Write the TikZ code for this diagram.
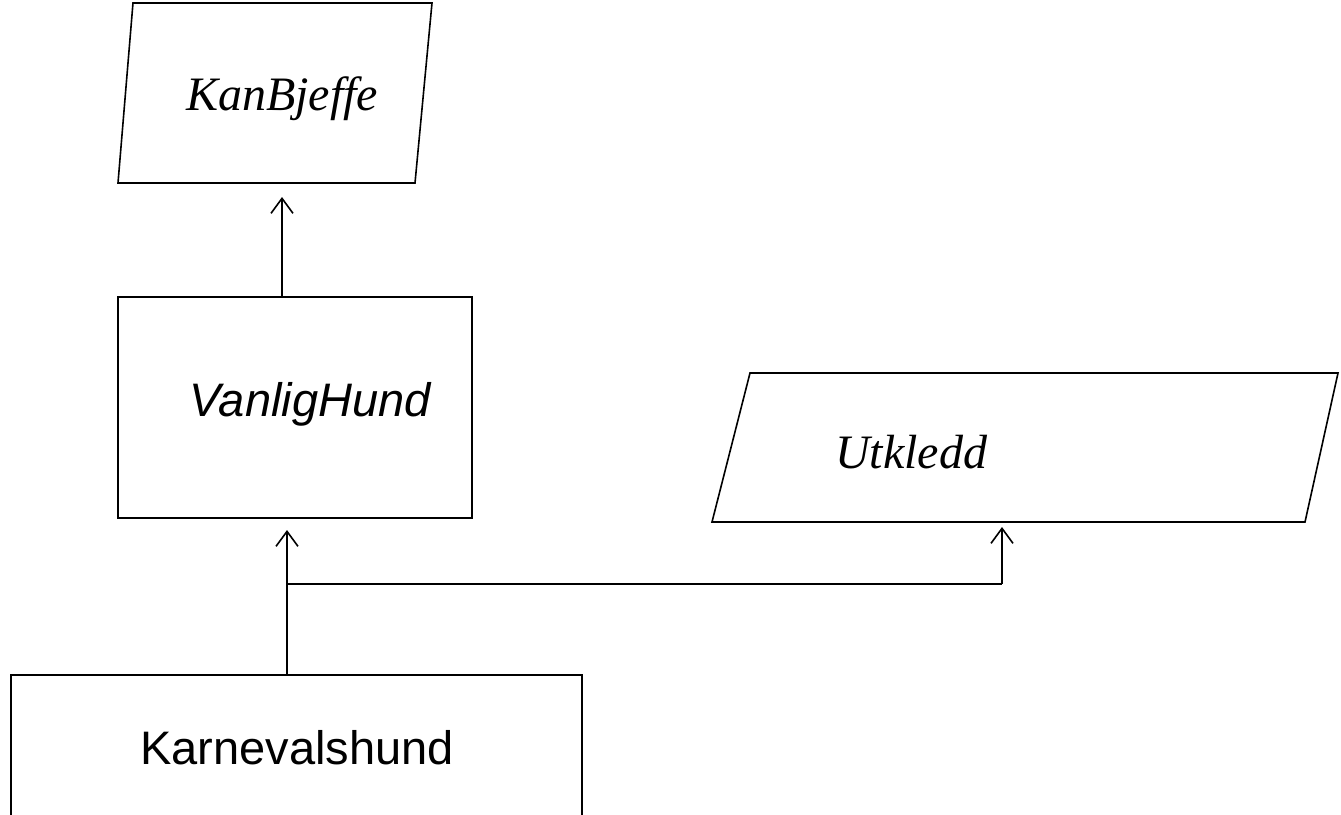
\documentclass[tikz,border=0pt]{standalone}
\usepackage{fontspec}
\setmainfont{Liberation Serif}
\setsansfont{Liberation Sans}
\usetikzlibrary{arrows.meta}
\begin{document}
\begin{tikzpicture}[x=1pt,y=-1pt,
  line width=1.6pt, line join=miter,
  serif/.style={font=\fontsize{48}{56}\selectfont\itshape, inner sep=0pt},
  sans/.style={font=\fontsize{47}{56}\selectfont\sffamily, inner sep=0pt},
  arr/.style={-{Straight Barb[length=15pt,width=22pt,line width=1.6pt]}}]
\useasboundingbox (0,0) rectangle (1341,814);
% KanBjeffe (parallelogram)
\coordinate (kbtl) at (133,3);
\coordinate (kbtr) at (432,3);
\coordinate (kbbr) at (415,183);
\coordinate (kbbl) at (118,183);
\draw (kbtl) -- (kbtr) -- (kbbr) -- (kbbl) -- cycle;
\node[serif] (kb) at (282,99) {KanBjeffe};
% Utkledd (parallelogram)
\coordinate (uttl) at (750,373);
\coordinate (uttr) at (1338,373);
\coordinate (utbr) at (1305,522);
\coordinate (utbl) at (712,522);
\draw (uttl) -- (uttr) -- (utbr) -- (utbl) -- cycle;
\node[serif] (ut) at (911,452) {Utkledd};
% VanligHund
\node[draw, minimum width=354pt, minimum height=221pt, inner sep=0pt] (vh) at (295,407.5) {};
\node[sans, font=\fontsize{47}{56}\selectfont\sffamily\itshape] (vht) at (310,404) {VanligHund};
% Karnevalshund (cut off at the bottom)
\node[minimum width=569pt, minimum height=138pt, inner sep=0pt] (kh) at (296.5,745) {};
\draw (kh.south west) -- (kh.north west) -- (kh.north east) -- (kh.south east);
\node[sans] (kht) at (297,748) {Karnevalshund};
% connectors
\coordinate (a1) at (282,197);
\draw[arr] (a1 |- vh.north) -- (a1);
\coordinate (j) at (287,584);
\coordinate (a2) at (287,530);
\coordinate (a3) at (1002,527);
\draw (j |- kh.north) -- (j) -- (a3 |- j);
\draw[arr] (j) -- (a2);
\draw[arr] (a3 |- j) -- (a3);
\end{tikzpicture}
\end{document}
